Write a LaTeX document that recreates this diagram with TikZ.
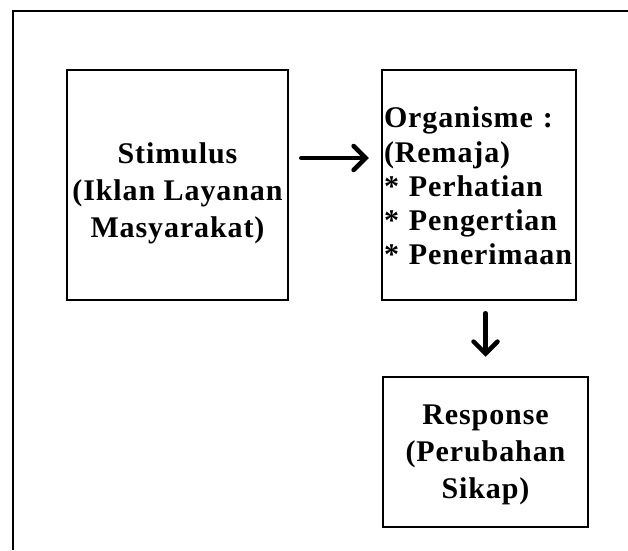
\documentclass[tikz,border=0pt]{standalone}
\usepackage{fontspec}
\setmainfont{Liberation Serif}[LetterSpace=3]
\usetikzlibrary{arrows.meta}

\begin{document}
\begin{tikzpicture}[x=1pt, y=1pt,
	box/.style = {draw, line width=2.5pt, align=center, inner sep=2pt,
		font=\bfseries\fontsize{30}{37}\selectfont},
	arr/.style = {line width=4.5pt, line cap=round,
		-{Straight Barb[length=12pt, width=24pt, line cap=round]}}]
	\useasboundingbox (0,0) rectangle (628,550);
	% frame, top and left edges only
	\draw [line width=2.5pt] (628,539) -- (13,539) -- (13,0);
	
	\node (stim) [box, minimum width=221, minimum height=230,
		text height=104pt, text depth=0pt] at (177.5,365)
		{Stimulus\\(Iklan Layanan\\Masyarakat)};
	\node (org) [box, align=left, text width=190, minimum height=230,
		font=\bfseries\fontsize{30}{34}\selectfont,
		text height=0pt, text depth=114pt] at (479,365)
		{Organisme :\\(Remaja)\\{*} Perhatian\\{*} Pengertian\\{*} Penerimaan};
	\node (resp) [box, minimum width=205, minimum height=150,
		text height=92pt, text depth=0pt] at (485.5,98)
		{Response\\(Perubahan\\Sikap)};
	
	\draw [arr, shorten <=12pt, shorten >=12pt] ([yshift=27]stim.east) -- ([yshift=27]org.west);
	\draw [arr, shorten <=12pt, shorten >=19pt] (org.south -| resp.north) -- (resp.north);
\end{tikzpicture}
\end{document}
